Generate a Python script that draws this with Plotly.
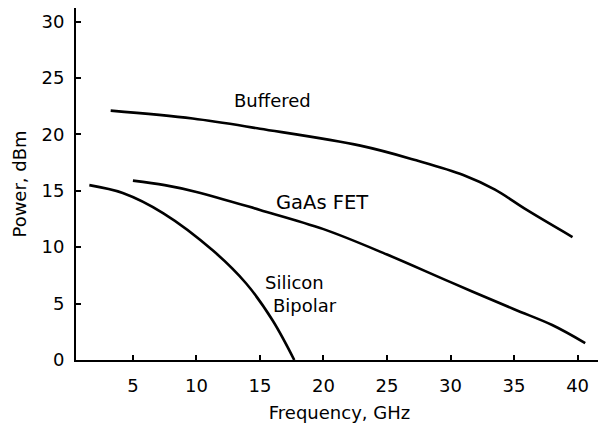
import plotly.graph_objects as go

# Data (frequency in GHz, power in dBm)
buffered_x = [3.25, 9.7, 15.0, 22.9, 27.3, 31.0, 33.5, 36.0, 39.6]
buffered_y = [22.1, 21.4, 20.5, 19.0, 17.7, 16.4, 15.1, 13.3, 10.9]

gaas_x = [5.0, 7.5, 10.0, 15.0, 20.0, 25.0, 30.0, 35.0, 38.0, 40.6]
gaas_y = [15.9, 15.5, 14.9, 13.3, 11.6, 9.35, 6.9, 4.5, 3.1, 1.5]

silicon_x = [1.57, 4.2, 7.4, 11.3, 13.9, 16.0, 17.7]
silicon_y = [15.5, 14.8, 13.0, 9.7, 6.8, 3.5, 0.0]

x_ticks = [5, 10, 15, 20, 25, 30, 35, 40]
y_ticks = [0, 5, 10, 15, 20, 25, 30]

# (text, x, y, xanchor, font size)
labels = [
    ("Buffered", 16.0, 23.0, "center", 18),
    ("GaAs FET", 19.9, 14.0, "center", 19.5),
    ("Silicon", 15.24, 6.85, "left", 18),
    ("Bipolar", 15.87, 4.8, "left", 18),
]

FONT = "DejaVu Sans, Verdana, sans-serif"

fig = go.Figure()
for xs, ys in [(buffered_x, buffered_y), (gaas_x, gaas_y), (silicon_x, silicon_y)]:
    fig.add_trace(go.Scatter(x=xs, y=ys, mode="lines",
                             line=dict(color="black", width=2.6, shape="spline", smoothing=1.0),
                             showlegend=False, hoverinfo="skip"))

for text, x, y, anchor, size in labels:
    fig.add_annotation(x=x, y=y, text=text, showarrow=False, xanchor=anchor,
                       font=dict(family=FONT, size=size, color="black"))

# page body adds an 8px offset, so the figure is 598x424
fig.update_layout(
    width=598, height=424,
    margin=dict(l=68, r=3, t=0, b=72),
    paper_bgcolor="white", plot_bgcolor="white",
    font=dict(family=FONT, size=18, color="black"),
)
fig.update_xaxes(range=[0.52, 42.0], tickvals=x_ticks, ticks="inside", ticklen=5,
                 tickwidth=1.5, tickcolor="black", showline=True, linecolor="black",
                 linewidth=2, showgrid=False, zeroline=False, ticklabelstandoff=8,
                 automargin=False,
                 title=dict(text="Frequency, GHz", font=dict(size=18), standoff=12))
fig.update_yaxes(range=[0, 31.2], tickvals=y_ticks, ticks="inside", ticklen=5,
                 tickwidth=1.5, tickcolor="black", showline=True, linecolor="black",
                 linewidth=2, showgrid=False, zeroline=False, ticklabelstandoff=6,
                 automargin=False,
                 title=dict(text="Power, dBm", font=dict(size=18), standoff=10))

fig.write_html("out.html")
